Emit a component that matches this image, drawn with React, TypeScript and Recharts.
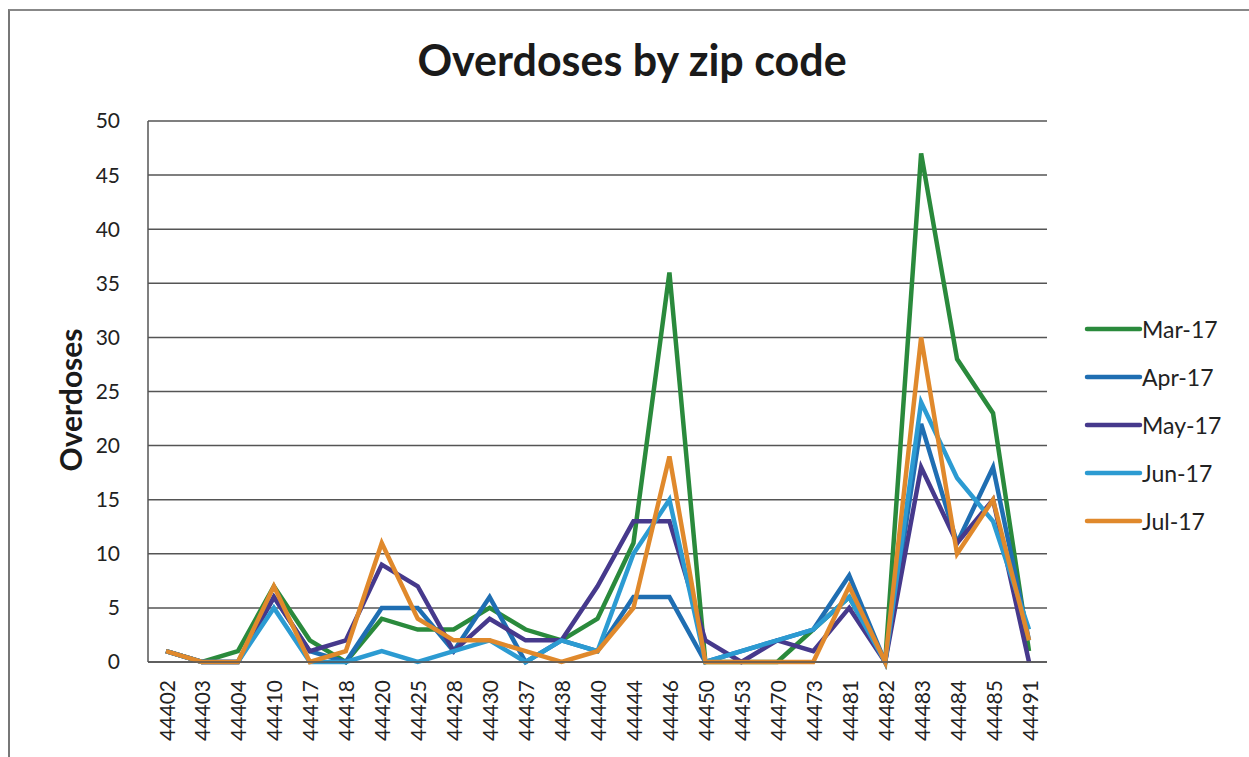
import React from 'react';
import { LineChart, Line, XAxis, YAxis, CartesianGrid, Legend } from 'recharts';

const zipCodes = ['44402','44403','44404','44410','44417','44418','44420','44425','44428','44430','44437','44438','44440','44444','44446','44450','44453','44470','44473','44481','44482','44483','44484','44485','44491'];
const mar17 = [1,0,1,7,2,0,4,3,3,5,3,2,4,11,36,0,0,0,3,6,0,47,28,23,1];
const apr17 = [1,0,0,6,1,0,5,5,1,6,0,2,1,6,6,0,1,2,3,8,0,22,11,18,2];
const may17 = [1,0,0,6,1,2,9,7,1,4,2,2,7,13,13,2,0,2,1,5,0,18,11,15,0];
const jun17 = [1,0,0,5,0,0,1,0,1,2,0,2,1,10,15,0,1,2,3,6,0,24,17,13,3];
const jul17 = [1,0,0,7,0,1,11,4,2,2,1,0,1,5,19,0,0,0,0,7,0,30,10,15,2];
const yTicks = [0,5,10,15,20,25,30,35,40,45,50];

const seriesDefs = [
  { key: 'Mar-17', values: mar17, color: '#2a8a3c' },
  { key: 'Apr-17', values: apr17, color: '#1f6eb2' },
  { key: 'May-17', values: may17, color: '#46398c' },
  { key: 'Jun-17', values: jun17, color: '#2c9bd2' },
  { key: 'Jul-17', values: jul17, color: '#e0892c' },
];

const data = zipCodes.map((zip, i) => {
  const row: Record<string, any> = { zip };
  seriesDefs.forEach((s) => { row[s.key] = s.values[i]; });
  return row;
});

const FONT = 'Lato, "Open Sans", sans-serif';

const XTick = (props: any) => {
  const { x, y, payload } = props;
  return (
    <text x={x} y={y + 10} transform={`rotate(-90 ${x} ${y + 10})`} textAnchor="end" dominantBaseline="central"
      fontSize={21} fill="#222" fontFamily={FONT}>{payload.value}</text>
  );
};

const LegendContent = () => (
  <svg width={170} height={250}>
    {seriesDefs.map((s, i) => (
      <g key={s.key}>
        <line x1={3} x2={56} y1={20 + i * 48} y2={20 + i * 48} stroke={s.color} strokeWidth={4.5} strokeLinecap="round" />
        <text x={58} y={20 + i * 48} dominantBaseline="central" fontSize={23} fill="#222" fontFamily={FONT}>{s.key}</text>
      </g>
    ))}
  </svg>
);

export default function App() {
  return (
    <div style={{ position: 'absolute', left: 0, top: 0, width: 1249, height: 757, background: '#fff', overflow: 'hidden' }}>
      <div style={{ position: 'absolute', left: 8, top: 9, width: 1300, height: 800, borderTop: '2px solid #888', borderLeft: '2px solid #777' }} />
      <div style={{ position: 'absolute', left: 0, top: 34, width: 1264, textAlign: 'center', fontFamily: FONT, fontWeight: 700, fontSize: 43, color: '#1a1a1a' }}>
        Overdoses by zip code
      </div>
      <div style={{ position: 'absolute', left: 70, top: 400, transform: 'translate(-50%, -50%) rotate(-90deg)', fontFamily: FONT, fontWeight: 700, fontSize: 30, color: '#1a1a1a', whiteSpace: 'nowrap' }}>
        Overdoses
      </div>
      <div style={{ position: 'absolute', left: 0, top: 0 }}>
        <LineChart width={1249} height={757} data={data} margin={{ top: 121, right: 32, bottom: 0, left: 66 }}>
          <CartesianGrid vertical={false} stroke="#555" strokeWidth={1.5} />
          <XAxis dataKey="zip" interval={0} tick={<XTick />} tickLine={false} axisLine={{ stroke: '#555', strokeWidth: 1.5 }} padding={{ left: 18, right: 18 }} height={95} />
          <YAxis domain={[0, 50]} ticks={yTicks} interval={0} tickLine={false} axisLine={{ stroke: '#555', strokeWidth: 1.5 }} width={82}
            tick={{ fontSize: 21, fill: '#222', fontFamily: FONT }} tickMargin={22} />
          <Legend layout="vertical" align="right" verticalAlign="middle" width={170} content={<LegendContent />}
            wrapperStyle={{ left: 1084, top: 309, width: 170, height: 250 }} />
          {seriesDefs.map((s) => (
            <Line key={s.key} type="linear" dataKey={s.key} stroke={s.color} strokeWidth={4.5} dot={false} isAnimationActive={false} />
          ))}
        </LineChart>
      </div>
    </div>
  );
}
